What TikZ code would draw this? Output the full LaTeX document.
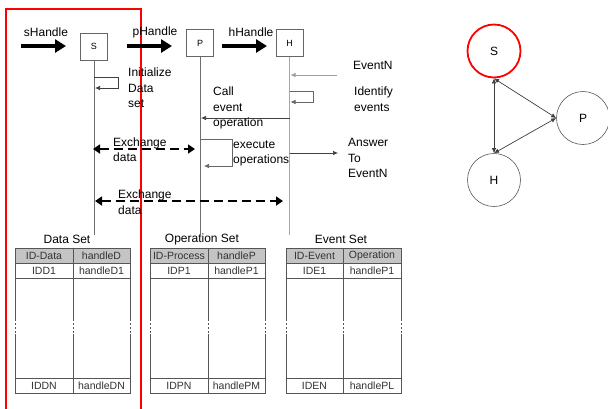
\documentclass[tikz,border=0pt]{standalone}
\usepackage{fontspec}
\setmainfont{Liberation Sans}
\usetikzlibrary{arrows.meta}
\definecolor{tblline}{HTML}{555555}
\definecolor{hdrfill}{HTML}{C4C4C4}
\definecolor{lifec}{HTML}{6E6E6E}
\definecolor{msgc}{HTML}{404040}
\begin{document}
\begin{tikzpicture}[x=1pt,y=-1pt,
  obj/.style={draw=gray!80!black, line width=0.6pt, minimum size=27pt, inner sep=0pt, font=\fontsize{9}{9}\selectfont},
  life/.style={draw=lifec, line width=0.8pt},
  handlearrow/.style={line width=4.5pt, -{Triangle[length=11pt,width=13pt]}},
  msg/.style={draw=msgc, line width=0.7pt, -{Latex[length=5pt,width=4.5pt]}},
  exch/.style={line width=2.6pt, dash pattern=on 9pt off 5pt, {Triangle[length=7pt,width=9pt]}-{Triangle[length=7pt,width=9pt]}},
  lbl/.style={font=\fontsize{12}{15.5}\selectfont, align=left, inner sep=0pt},
  ttl/.style={font=\fontsize{12}{14}\selectfont, inner sep=0pt},
  cell/.style={font=\fontsize{10.5}{12}\selectfont, text=black!80, inner sep=0pt},
  tbl/.style={draw=tblline, line width=0.8pt},
  brk/.style={draw=white, line width=1.6pt, dash pattern=on 2pt off 2pt},
  gnode/.style={circle, draw=gray!70!black, line width=0.6pt, minimum size=53pt, inner sep=0pt, font=\fontsize{12}{12}\selectfont},
  gedge/.style={draw=msgc, line width=0.7pt, {Latex[length=5pt,width=4.5pt]}-{Latex[length=5pt,width=4.5pt]}}
]
\useasboundingbox (0,0) rectangle (608,408);
\fill[white] (0,0) rectangle (608,408);

% red frame
\draw[red, line width=2pt] (6,420) -- (6,9) -- (141,9) -- (141,420);

% objects
\node[obj] (S) at (94,46.5) {S};
\node[obj] (P) at (200,43) {P};
\node[obj] (H) at (289.5,43) {H};

% handle labels and arrows
\node[ttl] (sh) at (46,32) {sHandle};
\node[ttl] (ph) at (155,32) {pHandle};
\node[ttl] (hh) at (251,32) {hHandle};
\coordinate (sh1) at (21,46); \coordinate (sh2) at (66,46);
\coordinate (ph1) at (127,46); \coordinate (ph2) at (172,46);
\coordinate (hh1) at (222,46); \coordinate (hh2) at (267,46);
\draw[handlearrow] (sh1) -- (sh2);
\draw[handlearrow] (ph1) -- (ph2);
\draw[handlearrow] (hh1) -- (hh2);

% lifelines
\coordinate (Se) at (94,235);
\coordinate (Pe) at (200,235);
\coordinate (He) at (289.5,235);
\draw[life] (S.south) -- (Se);
\draw[life] (P.south) -- (Pe);
\draw[life, draw=gray!70] (H.south) -- (He);

% Initialize Data set
\coordinate (i1) at (94,77); \coordinate (i2) at (118,77);
\coordinate (i3) at (118,88); \coordinate (i4) at (95,88);
\draw[msg] (i1) -- (i2) -- (i3) -- (i4);
\node[lbl, anchor=west] (tinit) at (128,88) {Initialize\\Data\\set};

% EventN
\coordinate (e1) at (337,75); \coordinate (e2) at (290.5,75);
\draw[msg, draw=gray!75] (e1) -- (e2);
\node[lbl, anchor=west] (tev) at (353,65) {EventN};

% Identify events
\coordinate (d1) at (289.5,91); \coordinate (d2) at (313,91);
\coordinate (d3) at (313,102); \coordinate (d4) at (290.5,102);
\draw[msg, draw=gray!80!black] (d1) -- (d2) -- (d3) -- (d4);
\node[lbl, anchor=west] (tid) at (354,99) {Identify\\events};

% Call event operation
\coordinate (c1) at (289.5,118); \coordinate (c2) at (201,118);
\draw[msg] (c1) -- (c2);
\node[lbl, anchor=west] (tcall) at (213,108) {Call\\event\\operation};

% execute operations
\coordinate (x1) at (201,139); \coordinate (x2) at (232,139);
\coordinate (x3) at (232,166); \coordinate (x4) at (204,166);
\draw[msg, draw=gray!80!black] (x1) -- (x2) -- (x3) -- (x4);
\node[lbl, anchor=west] (texec) at (233,153.5) {execute\\operations};

% Answer To EventN
\coordinate (a1) at (289.5,153); \coordinate (a2) at (338,153);
\draw[msg] (a1) -- (a2);
\node[lbl, anchor=west] (tans) at (348,158) {Answer\\To\\EventN};

% Exchange data
\coordinate (xa1) at (93,149); \coordinate (xa2) at (195,149);
\draw[exch] (xa1) -- (xa2);
\node[lbl, anchor=west] (tex1) at (113,149.5) {Exchange\\data};
\coordinate (xb1) at (95,201); \coordinate (xb2) at (283,201);
\draw[exch] (xb1) -- (xb2);
\node[lbl, anchor=west] (tex2) at (118,202) {Exchange\\data};

% ---- tables ----
% Data Set
\node[ttl] (tds) at (67,239) {Data Set};
\fill[hdrfill] (15,248) rectangle (130,263);
\draw[tbl] (15,248) rectangle (130,393);
\draw[tbl] (15,263) -- (130,263) (15,278) -- (130,278) (15,378) -- (130,378) (73,248) -- (73,393);
\draw[brk] (15,321) -- (15,334) (73,321) -- (73,334) (130,321) -- (130,334);
\node[cell] (d11) at (44,255.5) {ID-Data};
\node[cell] (d12) at (101.5,255.5) {handleD};
\node[cell] (d21) at (44,270.5) {IDD1};
\node[cell] (d22) at (101.5,270.5) {handleD1};
\node[cell] (d31) at (44,385.5) {IDDN};
\node[cell] (d32) at (101.5,385.5) {handleDN};

% Operation Set
\node[ttl] (tos) at (202,239) {Operation Set};
\fill[hdrfill] (150,248) rectangle (265,263);
\draw[tbl] (150,248) rectangle (265,393);
\draw[tbl] (150,263) -- (265,263) (150,278) -- (265,278) (150,378) -- (265,378) (208,248) -- (208,393);
\draw[brk] (150,321) -- (150,334) (208,321) -- (208,334) (265,321) -- (265,334);
\node[cell] (o11) at (179,255.5) {ID-Process};
\node[cell] (o12) at (236.5,255.5) {handleP};
\node[cell] (o21) at (179,270.5) {IDP1};
\node[cell] (o22) at (236.5,270.5) {handleP1};
\node[cell] (o31) at (179,385.5) {IDPN};
\node[cell] (o32) at (236.5,385.5) {handlePM};

% Event Set
\node[ttl] (tes) at (341,239) {Event Set};
\fill[hdrfill] (286,248) rectangle (401,263);
\draw[tbl] (286,248) rectangle (401,393);
\draw[tbl] (286,263) -- (401,263) (286,278) -- (401,278) (286,378) -- (401,378) (343,248) -- (343,393);
\draw[brk] (286,321) -- (286,334) (343,321) -- (343,334) (401,321) -- (401,334);
\node[cell] (e11) at (314.5,255.5) {ID-Event};
\node[cell] (e12) at (372,255.5) {Operation};
\node[cell] (e21) at (314.5,270.5) {IDE1};
\node[cell] (e22) at (372,270.5) {handleP1};
\node[cell] (e31) at (314.5,385.5) {IDEN};
\node[cell] (e32) at (372,385.5) {handlePL};

% ---- graph ----
\node[gnode, draw=red, line width=1.8pt] (gS) at (494,51) {S};
\node[gnode] (gP) at (583,118) {P};
\node[gnode] (gH) at (494,180) {H};
\draw[gedge] (gS.south) -- (gH.north);
\draw[gedge] (gS.south) -- (gP.west);
\draw[gedge] (gH.north) -- (gP.west);
\end{tikzpicture}
\end{document}
